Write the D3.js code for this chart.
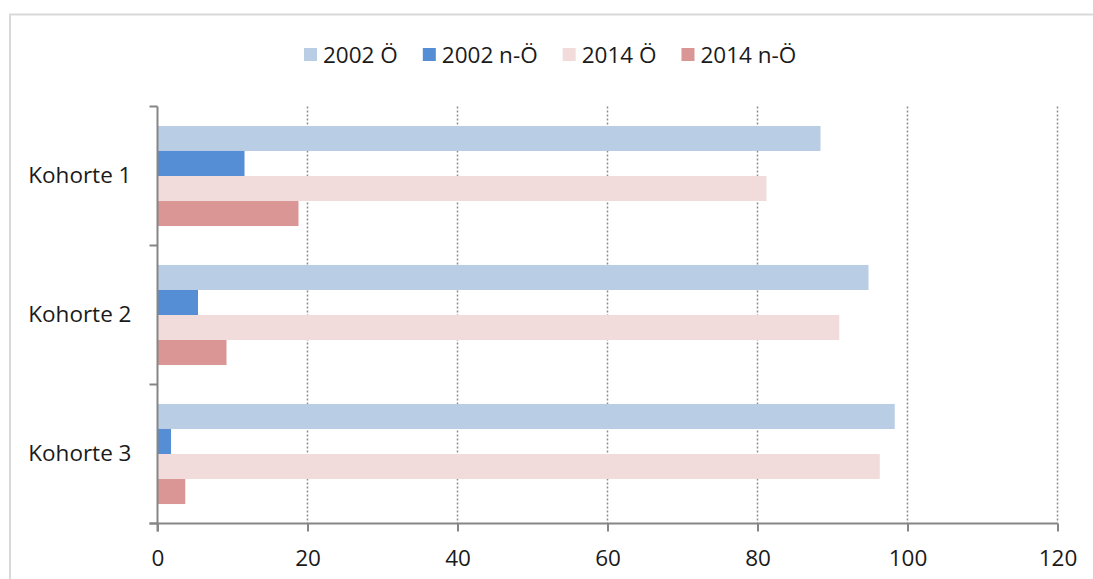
<!DOCTYPE html>
<html>
<head>
<meta charset="utf-8">
<script src="https://cdn.jsdelivr.net/npm/d3@7"></script>
<style>
  body { margin: 0; background: #fff; }
  svg { display: block; font-family: "Open Sans", "Noto Sans", sans-serif; }
</style>
</head>
<body>
<svg id="canvas"></svg>
<script>
// data
const categories = ['Kohorte 1', 'Kohorte 2', 'Kohorte 3'];
const seriesNames = ['2002 Ö', '2002 n-Ö', '2014 Ö', '2014 n-Ö'];
const seriesColors = ['#B9CDE5', '#558ED5', '#F2DCDB', '#D99694'];
const v2002O  = [88.4, 94.8, 98.3];
const v2002nO = [11.6, 5.4, 1.8];
const v2014O  = [81.2, 90.9, 96.3];
const v2014nO = [18.8, 9.2, 3.7];
const xTicks = [0, 20, 40, 60, 80, 100, 120];

const seriesValues = [v2002O, v2002nO, v2014O, v2014nO];

(function() {
  const w = 1093;
  const h = 579;
  const padL = 157.5, padR = 1057.5, padT = 106.5, padB = 523.5;
  const fontSize = '22.5px';
  const fontWeight = 380;

  const svg = d3.select('#canvas').attr('width', w).attr('height', h);

  // chart border
  svg.append('rect')
    .attr('x', 10).attr('y', 14.5)
    .attr('width', 1090).attr('height', 600)
    .attr('fill', 'none')
    .attr('stroke', '#d9d9d9')
    .attr('stroke-width', 2);

  const xScale = d3.scaleLinear().domain([0, 120]).range([padL, padR]);
  const yScale = d3.scaleBand().domain(categories).range([padT, padB])
    .paddingInner(0.28).paddingOuter(0.14);
  const subScale = d3.scaleBand().domain(d3.range(seriesNames.length))
    .range([0, yScale.bandwidth()]);

  // dotted gridlines
  svg.append('g')
    .selectAll('line')
    .data(xTicks.slice(1))
    .enter()
    .append('line')
    .attr('x1', d => xScale(d)).attr('x2', d => xScale(d))
    .attr('y1', padT).attr('y2', padB)
    .attr('stroke', '#8c8c8c')
    .attr('stroke-width', 1.5)
    .attr('stroke-dasharray', '2,2');

  // bars
  const groups = svg.append('g')
    .selectAll('g')
    .data(categories)
    .enter()
    .append('g')
    .attr('transform', d => 'translate(0,' + yScale(d) + ')');

  groups.selectAll('rect')
    .data((d, i) => seriesValues.map((vals, s) => ({ s: s, value: vals[i] })))
    .enter()
    .append('rect')
    .attr('x', xScale(0))
    .attr('y', d => subScale(d.s))
    .attr('width', d => xScale(d.value) - xScale(0))
    .attr('height', subScale.bandwidth())
    .attr('fill', d => seriesColors[d.s]);

  // axes
  const xAxis = d3.axisBottom(xScale).tickValues(xTicks).tickSizeInner(8).tickSizeOuter(0).tickPadding(19);
  const yAxis = d3.axisLeft(yScale).tickSize(0).tickPadding(26);

  const gx = svg.append('g').attr('transform', 'translate(0,' + padB + ')').call(xAxis);
  const gy = svg.append('g').attr('transform', 'translate(' + padL + ',0)').call(yAxis);

  // category boundary ticks on the y axis
  const bounds = [padT].concat(categories.map(c => yScale(c) + yScale.bandwidth() + yScale.step() * 0.14));
  svg.append('g')
    .selectAll('line')
    .data(bounds)
    .enter()
    .append('line')
    .attr('x1', padL - 8).attr('x2', padL)
    .attr('y1', d => d).attr('y2', d => d)
    .attr('stroke', '#868686')
    .attr('stroke-width', 2);

  [gx, gy].forEach(g => {
    g.select('.domain').attr('stroke', '#868686').attr('stroke-width', 2);
    g.selectAll('.tick line').attr('stroke', '#868686').attr('stroke-width', 2);
    g.selectAll('.tick text')
      .attr('fill', '#1a1a1a')
      .style('font-size', fontSize)
      .style('font-weight', fontWeight)
      .style('font-family', '"Open Sans", "Noto Sans", sans-serif');
  });
  gy.select('.domain').attr('d', 'M0,' + padT + 'V' + (padB + 8));
  gx.select('.domain').attr('d', 'M' + (padL - 8) + ',0H' + padR);

  // legend
  const legend = svg.append('g');
  let lx = 304;
  seriesNames.forEach((name, i) => {
    legend.append('rect')
      .attr('x', lx).attr('y', 48)
      .attr('width', 13).attr('height', 13)
      .attr('fill', seriesColors[i]);
    const t = legend.append('text')
      .attr('x', lx + 19).attr('y', 55)
      .attr('dy', '0.35em')
      .attr('fill', '#1a1a1a')
      .style('font-size', fontSize)
      .style('font-weight', fontWeight)
      .text(name);
    lx += 19 + t.node().getComputedTextLength() + 25;
  });
})();
</script>
</body>
</html>
